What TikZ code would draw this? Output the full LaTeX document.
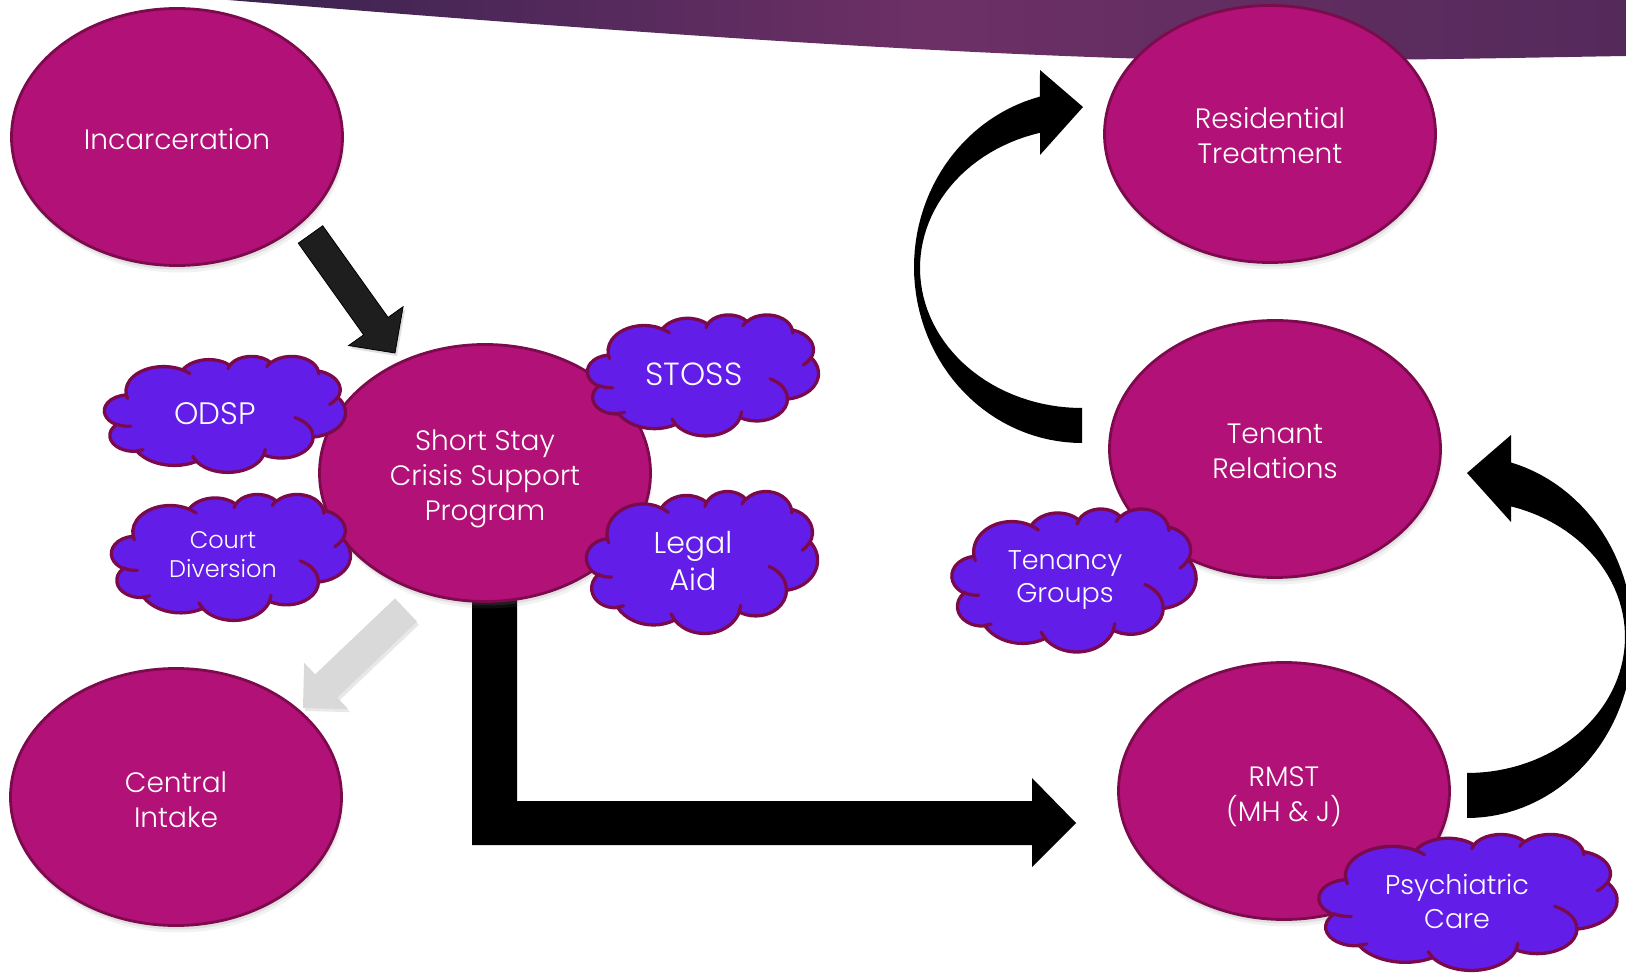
\documentclass[tikz,border=0pt]{standalone}
\usepackage{fontspec}
\setmainfont{Poppins}[UprightFont=* Light]
\usetikzlibrary{shapes.geometric,shadows,calc}

\definecolor{ellfill}{HTML}{B21277}
\definecolor{ellline}{HTML}{7C0A4C}
\definecolor{cloudfill}{HTML}{631DE9}
\definecolor{cloudline}{HTML}{7A0A4C}
\definecolor{bannerL}{HTML}{3A2350}
\definecolor{bannerM}{HTML}{6D3066}
\definecolor{bannerR}{HTML}{542A5B}
\definecolor{arrowgrey}{HTML}{D9D9D9}
\definecolor{arrowdark}{HTML}{1E1E1E}

\tikzset{
  ellnode/.style={ellipse, draw=ellline, fill=ellfill, line width=2.8pt,
    minimum width=331pt, minimum height=257pt, inner sep=0pt,
    drop shadow={shadow xshift=2pt, shadow yshift=-7pt, opacity=0.10},
    drop shadow={shadow xshift=1pt, shadow yshift=-4pt, opacity=0.16}},
  elltext/.style={text=white, align=center, inner sep=0pt,
    font=\fontsize{28}{35}\selectfont},
  cloudbody/.style={fill=cloudfill, draw=cloudline, line width=3.3pt, line join=round},
  cloudseam/.style={draw=cloudline, line width=3.3pt, line cap=round},
  cloudlabel/.style={text=white, align=center, inner sep=0pt},
  blackarrow/.style={fill=arrowdark, draw=black, line width=0.8pt,
    drop shadow={shadow xshift=2pt, shadow yshift=-3pt, opacity=0.25}},
  greyarrow/.style={fill=arrowgrey,
    drop shadow={shadow xshift=2pt, shadow yshift=-3pt, opacity=0.18}},
  bigarrow/.style={fill=black}
}

% cloud outline in a 432 x 432 box (puffs as elliptic arcs)
\newcommand\cloudoutline[1]{%
  \path[#1] (39,143.7)
    arc[start angle=-187.74, end angle=-59.61, x radius=67.53, y radius=91.90]
    arc[start angle=-152.02, end angle=-45.46, x radius=53.33, y radius=72.67]
    arc[start angle=-153.50, end angle=-37.31, x radius=43.65, y radius=59.45]
    arc[start angle=-139.80, end angle=-10.18, x radius=48.57, y radius=65.95]
    arc[start angle=-74.78, end angle=23.23, x radius=53.33, y radius=72.73]
    arc[start angle=-37.49, end angle=81.85, x radius=67.75, y radius=92.20]
    arc[start angle=0.46, end angle=122.02, x radius=57.85, y radius=78.67]
    arc[start angle=16.87, end angle=146.19, x radius=67.52, y radius=92.15]
    arc[start angle=59.05, end angle=150.13, x radius=77.20, y radius=105.43]
    arc[start angle=-276.71, end angle=-137.00, x radius=43.60, y radius=59.18]
    arc[start angle=-239.75, end angle=-95.87, x radius=43.45, y radius=59.45]
    -- cycle;}

% the short seams between the puffs
\newcommand\cloudseams[1]{%
  \path[#1]
    (46.93,261.77) arc[start angle=85.57, end angle=120.25, x radius=43.45, y radius=59.45]
    (69.28,348.99) arc[start angle=68.16, end angle=83.29, x radius=43.60, y radius=59.18]
    (164.78,390.90) arc[start angle=146.19, end angle=158.44, x radius=67.52, y radius=92.15]
    (288.27,347.51) arc[start angle=4.75, end angle=16.87, x radius=67.52, y radius=92.15]
    (341.29,229.54) arc[start angle=-63.99, end angle=0.46, x radius=57.85, y radius=78.67]
    (417.98,153.54) arc[start angle=23.23, end angle=49.68, x radius=53.33, y radius=72.73]
    (383.24,54.26) arc[start angle=-10.18, end angle=0.82, x radius=48.57, y radius=65.95]
    (290.78,39.52) arc[start angle=-156.36, end angle=-139.80, x radius=48.57, y radius=65.95]
    (221.41,47.20) arc[start angle=-167.73, end angle=-153.50, x radius=43.65, y radius=59.45]
    (140.00,51.92) arc[start angle=-59.61, end angle=-45.69, x radius=67.53, y radius=91.90]
    (41.27,157.89) arc[start angle=163.21, end angle=172.26, x radius=67.53, y radius=91.90];}

% #1 name, #2 cx, #3 cy, #4 width, #5 height, #6 label position, #7 font, #8 text
\newcommand\cloudblob[8]{%
  \begin{scope}[shift={({#2-#4/2},{#3-#5/2})}, xscale={#4/432}, yscale={#5/432}]
    \cloudoutline{cloudbody}
    \cloudseams{cloudseam}
  \end{scope}
  \node[cloudlabel, font=#7] (#1) at #6 {#8};}

% straight block arrow: #1 style, #2 tail, #3 tip, #4 half shaft, #5 half head, #6 head length
\newcommand\blockarrow[6]{%
  \coordinate (ba-base) at ($(#3)!#6!(#2)$);
  \path[#1] ($(#2)!#4!90:(#3)$) -- ($(ba-base)!#4!90:(#3)$)
    -- ($(ba-base)!#5!90:(#3)$) -- (#3) -- ($(ba-base)!#5!-90:(#3)$)
    -- ($(ba-base)!#4!-90:(#3)$) -- ($(#2)!#4!-90:(#3)$) -- cycle;}

\begin{document}
\begin{tikzpicture}[x=1pt,y=-1pt]
\useasboundingbox (0,0) rectangle (1626,973);
\clip (0,0) rectangle (1626,973);
\fill[white] (0,0) rectangle (1626,973);

% title band
\shade[left color=bannerL, right color=bannerR, middle color=bannerM]
  (228,0) .. controls (500,22) and (850,50) .. (1150,59)
  .. controls (1350,62) and (1500,58) .. (1626,56) -- (1626,-2) -- (228,-2) -- cycle;

% elbow arrow from the crisis programme to RMST
\fill[black] (472,585) -- (517,585) -- (517,801) -- (1032,801) -- (1032,778)
  -- (1076,823) -- (1032,867) -- (1032,845) -- (472,845) -- cycle;

% services
\node[ellnode] (incar) at (177,137) {};
\node[ellnode] (sscsp) at (485,473) {};
\node[ellnode] (intake) at (176,797) {};
\node[ellnode] (restreat) at (1270,134) {};
\node[ellnode] (tenant) at (1275,449) {};
\node[ellnode] (rmst) at (1284,791) {};

\node[elltext] (incar-t) at ($(incar)+(0,2)$) {Incarceration};
\node[elltext] (sscsp-t) at ($(sscsp)+(0,5.5)$) {Short Stay\\Crisis Support\\Program};
\node[elltext] (intake-t) at ($(intake)+(0,2.5)$) {Central\\Intake};
\node[elltext] (restreat-t) at ($(restreat)+(0,1.5)$) {Residential\\Treatment};
\node[elltext] (tenant-t) at ($(tenant)+(0,2)$) {Tenant\\Relations};
\node[elltext] (rmst-t) at ($(rmst)+(0,6)$) {RMST\\(MH \& J)};

% supports
\cloudblob{odsp}{225}{414}{241}{116}{(215,414)}{\fontsize{31}{37}\selectfont}{ODSP}
\cloudblob{court}{231}{557}{239}{126}{(223,555)}{\fontsize{24}{29}\selectfont}{Court\\Diversion}
\cloudblob{stoss}{703}{375}{231}{121}{(694,374)}{\fontsize{32}{38}\selectfont}{STOSS}
\cloudblob{legal}{702}{562}{231}{142}{(693,561)}{\fontsize{30}{37}\selectfont}{Legal\\Aid}
\cloudblob{tenancy}{1074}{580}{244}{143}{(1065,580)}{\fontsize{27}{33}\selectfont}{Tenancy\\Groups}
\cloudblob{psych}{1468}{902}{298}{136}{(1457,901)}{\fontsize{27}{34}\selectfont}{Psychiatric\\Care}

% straight arrows
\coordinate (incarOut) at (310.5,234.5);
\coordinate (sscspIn) at (395,353);
\blockarrow{blackarrow}{incarOut}{sscspIn}{15pt}{33.5pt}{33pt}
\coordinate (sscspOut) at (406,610);
\coordinate (intakeIn) at (303,708);
\blockarrow{greyarrow}{sscspOut}{intakeIn}{16pt}{32pt}{32pt}

% curved arrow: Tenant Relations up to Residential Treatment
\fill[black] (1082,443)
  -- plot[domain=90:255.5, samples=60] ({1082+168*cos(\x)},{267+176*sin(\x)})
  -- (1040,70) -- (1083,107) -- (1040,155)
  -- plot[domain=255:90, samples=60] ({1082+162*cos(\x)},{268+140*sin(\x)}) -- cycle;

% curved arrow: RMST up to Tenant Relations
\fill[black] (1467,818)
  -- plot[domain=90:-74.6, samples=60] ({1467+166*cos(\x)},{637+181*sin(\x)})
  -- (1511,435) -- (1467,473) -- (1511,522)
  -- plot[domain=-73.8:90, samples=60] ({1467+158*cos(\x)},{637+136*sin(\x)}) -- cycle;
\end{tikzpicture}
\end{document}
